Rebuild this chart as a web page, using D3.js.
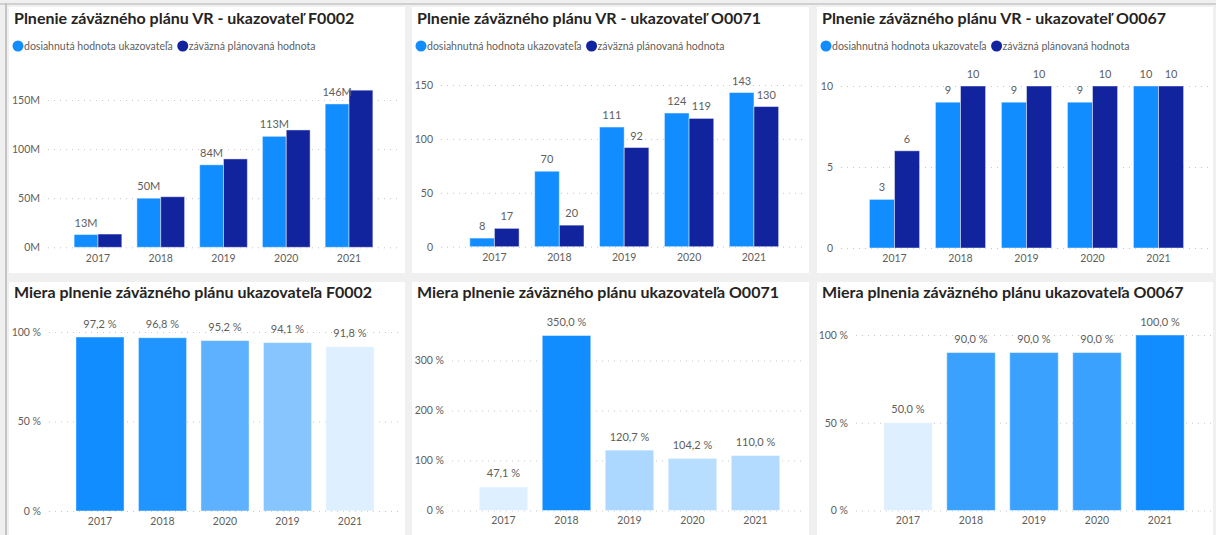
<!DOCTYPE html>
<meta charset="utf-8">
<style>
body { margin: 0; background: #f0f0f0; }
text { font-family: "Segoe UI", Lato, sans-serif; }
.title { font-size: 16px; font-weight: 700; fill: #252423; }
.legend { font-size: 10.5px; fill: #605e5c; }
.axis text { font-size: 10.5px; fill: #605e5c; }
.axis .domain { display: none; }
.y.axis line { stroke: #c8c6c4; stroke-dasharray: 1,5; }
.lbl { font-size: 11px; fill: #605e5c; text-anchor: middle; }
</style>
<body>
<script src="https://d3js.org/d3.v7.min.js"></script>
<script>

const years = ["2017", "2018", "2019", "2020", "2021"];

const f0002Actual = [13e6, 50e6, 84e6, 113e6, 146e6];
const f0002Plan   = [13.5e6, 51.5e6, 90e6, 119.5e6, 160e6];
const o0071Actual = [8, 70, 111, 124, 143];
const o0071Plan   = [17, 20, 92, 119, 130];
const o0067Actual = [3, 9, 9, 9, 10];
const o0067Plan   = [6, 10, 10, 10, 10];

const f0002RateYears = ["2017", "2018", "2020", "2019", "2021"];
const f0002Rate = [97.2, 96.8, 95.2, 94.1, 91.8];
const o0071Rate = [47.1, 350.0, 120.7, 104.2, 110.0];
const o0067Rate = [50.0, 90.0, 90.0, 90.0, 100.0];

const moneyTicks = [0, 50e6, 100e6, 150e6];
const countTicks = [0, 50, 100, 150];
const smallTicks = [0, 5, 10];
const rateTicks100 = [0, 50, 100];
const rateTicks300 = [0, 100, 200, 300];

const namesA = ["dosiahnutá hodnota ukazovateľa", "záväzná plánovaná hodnota"];
const namesB = ["dosiahnutná hodnota ukazovateľa", "záväzná plánovaná hodnota"];
const seriesColors = ["#118dff", "#12239e"];

const svg = d3.select("body").append("svg")
    .attr("width", 1216)
    .attr("height", 535);

svg.append("rect").attr("width", 1216).attr("height", 535).attr("fill", "#f0f0f0");
svg.append("rect").attr("x", 0).attr("y", 3).attr("width", 1216).attr("height", 2).attr("fill", "#d0d0d0");
svg.append("rect").attr("x", 5).attr("y", 3).attr("width", 2).attr("height", 532).attr("fill", "#c4c4c4");

// white tiles
[[9, 7, 396, 266], [412, 7, 397, 266], [817, 7, 396, 266],
 [9, 282, 396, 253], [412, 282, 397, 253], [817, 282, 396, 253]].forEach(function(p) {
  svg.append("rect").attr("x", p[0]).attr("y", p[1]).attr("width", p[2]).attr("height", p[3]).attr("fill", "#fff");
});

const pct = v => d3.format(".1f")(v).replace(".", ",") + " %";

function groupedChart(o) {
  var g = svg.append("g");
  g.append("text").attr("class", "title").attr("x", o.x).attr("y", 24).text(o.title);

  var lx = o.x + 4;
  o.names.forEach(function(n, i) {
    g.append("circle").attr("cx", lx).attr("cy", 46).attr("r", 5.5).attr("fill", seriesColors[i]);
    var t = g.append("text").attr("class", "legend").attr("x", lx + 6).attr("y", 49.5).text(n);
    lx += 6 + t.node().getComputedTextLength() + 10;
  });

  var y = d3.scaleLinear().domain([0, o.ticks[o.ticks.length - 1]]).range([o.y0, o.yTop]);
  var x0 = d3.scaleBand().domain(years).range(o.band).paddingInner(0.24).paddingOuter(0.12);
  var x1 = d3.scaleBand().domain([0, 1]).range([0, x0.bandwidth()]);

  g.append("g")
    .attr("class", "y axis")
    .attr("transform", "translate(" + o.grid[0] + ",0)")
    .call(d3.axisLeft(y).tickValues(o.ticks).tickSize(-(o.grid[1] - o.grid[0])).tickPadding(8).tickFormat(o.tickFmt));

  g.append("g")
    .attr("class", "x axis")
    .attr("transform", "translate(0," + o.y0 + ")")
    .call(d3.axisBottom(x0).tickSize(0).tickPadding(7));

  var rows = years.map(function(yr, i) { return { year: yr, values: [o.actual[i], o.plan[i]] }; });

  var slice = g.selectAll(".slice")
    .data(rows)
    .enter().append("g")
    .attr("transform", function(d) { return "translate(" + x0(d.year) + ",0)"; });

  slice.selectAll("rect")
    .data(function(d) { return d.values; })
    .enter().append("rect")
    .attr("x", function(d, i) { return x1(i); })
    .attr("width", x1.bandwidth())
    .attr("y", function(d) { return y(d); })
    .attr("height", function(d) { return o.y0 - y(d); })
    .attr("fill", function(d, i) { return seriesColors[i]; })
    .attr("stroke", "rgba(255,255,255,0.45)")
    .attr("stroke-width", 1);

  slice.selectAll(".lbl")
    .data(function(d) { return d.values.map(function(v, i) { return { v: v, i: i }; }).filter(function(e) { return o.labelSeries.indexOf(e.i) >= 0; }); })
    .enter().append("text")
    .attr("class", "lbl")
    .attr("x", function(d) { return x1(d.i) + x1.bandwidth() / 2; })
    .attr("y", function(d) { return y(d.v) - 8; })
    .text(function(d) { return o.labelFmt(d.v); });
}

function rateChart(o) {
  var g = svg.append("g");
  g.append("text").attr("class", "title").attr("x", o.x).attr("y", 298).text(o.title);

  var y = d3.scaleLinear().domain([0, o.ticks[o.ticks.length - 1]]).range([o.y0, o.yTop]);
  var x = d3.scaleBand().domain(o.cats).range(o.band).paddingInner(0.23).paddingOuter(0.115);
  var color = d3.scaleLinear().domain(d3.extent(o.values)).range(["#deefff", "#118dff"]);

  g.append("g")
    .attr("class", "y axis")
    .attr("transform", "translate(" + o.grid[0] + ",0)")
    .call(d3.axisLeft(y).tickValues(o.ticks).tickSize(-(o.grid[1] - o.grid[0])).tickPadding(8).tickFormat(function(d) { return d + " %"; }));

  g.append("g")
    .attr("class", "x axis")
    .attr("transform", "translate(0," + o.y0 + ")")
    .call(d3.axisBottom(x).tickSize(0).tickPadding(6.5));

  var rows = o.cats.map(function(c, i) { return { cat: c, v: o.values[i] }; });

  g.selectAll(".bar")
    .data(rows)
    .enter().append("rect")
    .attr("x", function(d) { return x(d.cat); })
    .attr("width", x.bandwidth())
    .attr("y", function(d) { return y(d.v); })
    .attr("height", function(d) { return o.y0 - y(d.v); })
    .attr("fill", function(d) { return color(d.v); })
    .attr("stroke", "rgba(255,255,255,0.45)")
    .attr("stroke-width", 1);

  g.selectAll(".lbl")
    .data(rows)
    .enter().append("text")
    .attr("class", "lbl")
    .attr("x", function(d) { return x(d.cat) + x.bandwidth() / 2; })
    .attr("y", function(d) { return y(d.v) - 9.5; })
    .text(function(d) { return pct(d.v); });
}

groupedChart({
  x: 14, title: "Plnenie záväzného plánu VR - ukazovateľ F0002", names: namesA,
  actual: f0002Actual, plan: f0002Plan, ticks: moneyTicks,
  tickFmt: function(d) { return (d / 1e6) + "M"; },
  labelFmt: function(d) { return Math.round(d / 1e6) + "M"; }, labelSeries: [0],
  y0: 247.3, yTop: 100, band: [66.6, 380.4], grid: [48, 400]
});

groupedChart({
  x: 417, title: "Plnenie záväzného plánu VR - ukazovateľ O0071", names: namesB,
  actual: o0071Actual, plan: o0071Plan, ticks: countTicks,
  tickFmt: function(d) { return d; },
  labelFmt: function(d) { return d; }, labelSeries: [0, 1],
  y0: 246.7, yTop: 85, band: [462, 786.4], grid: [441, 806]
});

groupedChart({
  x: 822, title: "Plnenie záväzného plánu VR - ukazovateľ O0067", names: namesB,
  actual: o0067Actual, plan: o0067Plan, ticks: smallTicks,
  tickFmt: function(d) { return d; },
  labelFmt: function(d) { return d; }, labelSeries: [0, 1],
  y0: 248, yTop: 86, band: [861.5, 1191.5], grid: [841, 1211]
});

rateChart({
  x: 14, title: "Miera plnenie záväzného plánu ukazovateľa F0002",
  cats: f0002RateYears, values: f0002Rate, ticks: rateTicks100,
  y0: 511, yTop: 332, band: [68.75, 381.25], grid: [49, 400]
});

rateChart({
  x: 417, title: "Miera plnenie záväzného plánu ukazovateľa O0071",
  cats: years, values: o0071Rate, ticks: rateTicks300,
  y0: 510.5, yTop: 360.5, band: [472, 787], grid: [452, 806]
});

rateChart({
  x: 822, title: "Miera plnenia záväzného plánu ukazovateľa O0067",
  cats: years, values: o0067Rate, ticks: rateTicks100,
  y0: 510.5, yTop: 335, band: [876.5, 1191.5], grid: [856, 1211]
});

</script>
</body>
